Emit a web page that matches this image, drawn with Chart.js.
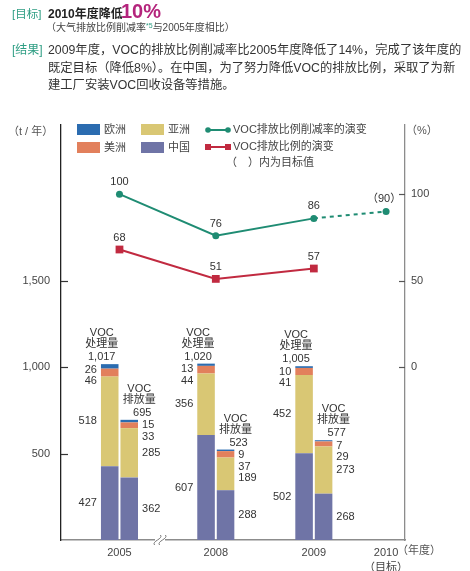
<!DOCTYPE html>
<html>
<head>
<meta charset="utf-8">
<script src="https://cdn.jsdelivr.net/npm/chart.js@4.4.1/dist/chart.umd.min.js"></script>
<style>
  body { margin: 0; background: #fff; font-family: 'Liberation Sans', 'Noto Sans CJK SC', sans-serif; color: #333; }
  #wrap { position: relative; width: 470px; height: 571px; overflow: hidden; }
  #myChart { position: absolute; left: 0; top: 0; }
  .t { position: absolute; white-space: nowrap; line-height: 1; }
  .tag { color: #2f9e84; }
</style>
</head>
<body>
<div id="wrap">
  <canvas id="myChart" width="470" height="571"></canvas>
  <span class="t tag" style="left:12px;top:9px;font-size:11.5px">[目标]</span>
  <span class="t" style="left:48px;top:8px;font-size:12px;font-weight:bold;color:#222">2010年度降低</span>
  <span class="t" style="left:121px;top:1px;font-size:20px;font-weight:bold;color:#b4247c">10%</span>
  <span class="t" style="left:46px;top:22px;font-size:10px;color:#444">（大气排放比例削减率<span class="tag" style="font-size:7px;vertical-align:3px">*5</span>与2005年度相比）</span>
  <span class="t tag" style="left:12px;top:44px;font-size:12px">[结果]</span>
  <div class="t" style="left:48px;top:42px;font-size:12.3px;line-height:17.5px;color:#333">2009年度，VOC的排放比例削减率比2005年度降低了14%，完成了该年度的<br>既定目标（降低8%）。在中国，为了努力降低VOC的排放比例，采取了为新<br>建工厂安装VOC回收设备等措施。</div>
</div>
<script>
const years = ['2005', '2008', '2009', '2010'];
const processedChina = [427, 607, 502];
const processedAsia = [518, 356, 452];
const processedAmerica = [46, 44, 41];
const processedEurope = [26, 13, 10];
const processedTotal = [1017, 1020, 1005];
const emissionChina = [362, 288, 268];
const emissionAsia = [285, 189, 273];
const emissionAmerica = [33, 37, 29];
const emissionEurope = [15, 9, 7];
const emissionTotal = [695, 523, 577];
const reductionRate = [100, 76, 86, 90]; // last one is the 2010 target
const emissionRatio = [68, 51, 57];
const targetIndex = 3;
const leftTicks = [500, 1000, 1500];
const rightTicks = [0, 50, 100];

// layout only: where each year sits on the x axis (axis is broken after 2005)
const xSlot = [1.7, 4.5, 7.35, 9.45];
const FONT = "'Liberation Sans', 'Noto Sans CJK SC', sans-serif";
const colors = {
    europe: '#2b6cb0', america: '#e2805c', asia: '#d9c774', china: '#6f74a6',
    green: '#1f8c73', red: '#c12a40'
};

Chart.defaults.font.family = FONT;
Chart.defaults.color = '#444';

const pts = (arr) => arr.map((v, i) => ({ x: xSlot[i], y: v }));
const fmt = (v) => v.toLocaleString('en-US');

function barSet(label, values, color, stack) {
    return {
        type: 'bar', label, data: pts(values), backgroundColor: color, stack,
        yAxisID: 'y', categoryPercentage: 0.54, barPercentage: 0.9, borderWidth: 0
    };
}

const datasets = [
    barSet('中国', processedChina, colors.china, 'proc'),
    barSet('亚洲', processedAsia, colors.asia, 'proc'),
    barSet('美洲', processedAmerica, colors.america, 'proc'),
    barSet('欧洲', processedEurope, colors.europe, 'proc'),
    barSet('中国', emissionChina, colors.china, 'emit'),
    barSet('亚洲', emissionAsia, colors.asia, 'emit'),
    barSet('美洲', emissionAmerica, colors.america, 'emit'),
    barSet('欧洲', emissionEurope, colors.europe, 'emit'),
    {
        type: 'line', label: 'VOC排放比例削减率的演变', data: pts(reductionRate), yAxisID: 'y2',
        borderColor: colors.green, backgroundColor: colors.green, borderWidth: 2,
        pointRadius: 3.5, pointBorderWidth: 0, pointStyle: 'circle',
        segment: { borderDash: c => c.p1DataIndex === targetIndex ? [4, 4] : undefined }
    },
    {
        type: 'line', label: 'VOC排放比例的演变', data: pts(emissionRatio), yAxisID: 'y2',
        borderColor: colors.red, backgroundColor: colors.red, borderWidth: 2,
        pointRadius: 5.5, pointBorderWidth: 0, pointStyle: 'rect'
    }
];

const barLabels = {
    id: 'barLabels',
    afterDatasetsDraw(chart) {
        const ctx = chart.ctx;
        ctx.save();
        ctx.font = '11px ' + FONT;
        ctx.fillStyle = '#333';
        ctx.textBaseline = 'middle';
        ['proc', 'emit'].forEach(stack => {
            const sets = [];
            chart.data.datasets.forEach((d, di) => {
                if (d.stack === stack) sets.push({ d, m: chart.getDatasetMeta(di) });
            });
            const totals = stack === 'proc' ? processedTotal : emissionTotal;
            const isLeft = stack === 'proc';
            for (let i = 0; i < totals.length; i++) {
                const els = sets.map(o => o.m.data[i]);
                const bar = els[0];
                const top = els[els.length - 1].y;
                const lx = isLeft ? bar.x - bar.width / 2 - 4 : bar.x + bar.width / 2 + 4;
                ctx.textAlign = isLeft ? 'right' : 'left';
                let prev = top - 6;
                for (let k = els.length - 1; k >= 0; k--) {
                    const e = els[k];
                    const y = Math.max((e.y + e.base) / 2, prev + 11.5);
                    ctx.fillText(sets[k].d.data[i].y, lx, y);
                    prev = y;
                }
                const cx = isLeft ? bar.x - 8 : bar.x + 10;
                ctx.textAlign = 'center';
                ctx.fillText('VOC', cx, top - 31);
                ctx.fillText(isLeft ? '处理量' : '排放量', cx, top - 20);
                ctx.fillText(fmt(totals[i]), isLeft ? cx : cx + 3, top - 7);
            }
        });
        // line point labels
        [8, 9].forEach(di => {
            const meta = chart.getDatasetMeta(di);
            meta.data.forEach((p, i) => {
                const v = chart.data.datasets[di].data[i].y;
                const txt = (di === 8 && i === targetIndex) ? '（' + v + '）' : String(v);
                ctx.fillText(txt, p.x - (di === 8 && i === targetIndex ? 2 : 0), p.y - 12);
            });
        });
        ctx.restore();
    }
};

const decorations = {
    id: 'decorations',
    afterDraw(chart) {
        const ctx = chart.ctx;
        const { left, right, bottom } = chart.chartArea;
        const y = chart.scales.y, y2 = chart.scales.y2;
        ctx.save();
        // inward tick marks
        ctx.lineWidth = 1.2;
        ctx.strokeStyle = '#333';
        leftTicks.forEach(v => {
            const py = Math.round(y.getPixelForValue(v)) + 0.5;
            ctx.beginPath(); ctx.moveTo(left, py); ctx.lineTo(left + 7, py); ctx.stroke();
        });
        ctx.strokeStyle = '#555';
        rightTicks.forEach(v => {
            const py = Math.round(y2.getPixelForValue(v)) + 0.5;
            ctx.beginPath(); ctx.moveTo(right - 6, py); ctx.lineTo(right, py); ctx.stroke();
        });
        // axis break mark on the baseline
        const bx = 160, by = bottom;
        ctx.fillStyle = '#fff';
        ctx.fillRect(bx - 5, by - 2, 10, 4);
        ctx.strokeStyle = '#777';
        ctx.lineWidth = 1;
        [-2.5, 2.5].forEach(dx => {
            ctx.beginPath();
            ctx.moveTo(bx + dx - 3, by + 5);
            ctx.bezierCurveTo(bx + dx - 6, by + 1, bx + dx + 6, by - 1, bx + dx + 3, by - 5);
            ctx.stroke();
        });
        // axis titles
        ctx.fillStyle = '#555';
        ctx.font = '11px ' + FONT;
        ctx.textBaseline = 'middle';
        ctx.textAlign = 'left';
        ctx.fillText('（t / 年）', 8, 132);
        ctx.fillText('（%）', 406, 131);
        ctx.fillText('（年度）', 397, 551);
        // legend
        const boxes = [[3, 77, 124], [2, 77, 142], [1, 141, 124], [0, 141, 142]];
        boxes.forEach(([di, bxl, byt]) => {
            const d = chart.data.datasets[di];
            ctx.fillStyle = d.backgroundColor;
            ctx.fillRect(bxl, byt, 23, 11);
            ctx.fillStyle = '#444';
            ctx.fillText(d.label, bxl + 27, byt + 6);
        });
        [[8, 130], [9, 147]].forEach(([di, ly]) => {
            const d = chart.data.datasets[di];
            ctx.strokeStyle = d.borderColor;
            ctx.fillStyle = d.borderColor;
            ctx.lineWidth = 2;
            ctx.beginPath(); ctx.moveTo(208, ly); ctx.lineTo(228, ly); ctx.stroke();
            [208, 228].forEach(px => {
                ctx.beginPath();
                if (di === 8) { ctx.arc(px, ly, 2.8, 0, Math.PI * 2); ctx.fill(); }
                else ctx.fillRect(px - 3, ly - 3, 6, 6);
            });
            ctx.fillStyle = '#444';
            ctx.fillText(d.label, 233, ly);
        });
        ctx.fillText('（　）内为目标值', 226, 163);
        ctx.restore();
    }
};

new Chart(document.getElementById('myChart'), {
    type: 'bar',
    data: { datasets },
    plugins: [barLabels, decorations],
    options: {
        responsive: false,
        animation: false,
        layout: { padding: { top: 125, left: 0, right: 0, bottom: 0 } },
        plugins: { legend: { display: false }, tooltip: { enabled: false } },
        scales: {
            x: {
                type: 'linear', min: 0, max: 10, offset: false,
                grid: { display: false, drawTicks: false },
                border: { color: '#8c8c8c', width: 1.5 },
                ticks: {
                    padding: 5, maxRotation: 0, autoSkip: false, color: '#444',
                    font: { size: 11, lineHeight: 1.4 },
                    callback: (v, i) => i === targetIndex ? [years[i], '（目标）'] : years[i]
                },
                afterBuildTicks: s => { s.ticks = xSlot.map(v => ({ value: v })); },
                afterFit: s => { s.height = 31; }
            },
            y: {
                type: 'linear', position: 'left', stacked: true, min: 0, max: 2400,
                grid: { display: false, drawTicks: false },
                border: { color: '#222', width: 1.3 },
                ticks: { padding: 11, color: '#444', font: { size: 11 }, callback: v => fmt(v) },
                afterBuildTicks: s => { s.ticks = leftTicks.map(v => ({ value: v })); },
                afterFit: s => { s.width = 61; }
            },
            y2: {
                type: 'linear', position: 'right', min: -100, max: 140,
                grid: { display: false, drawTicks: false },
                border: { color: '#8c8c8c', width: 1.3 },
                ticks: { padding: 6, color: '#444', font: { size: 11 } },
                afterBuildTicks: s => { s.ticks = rightTicks.map(v => ({ value: v })); },
                afterFit: s => { s.width = 65; }
            }
        }
    }
});
</script>
</body>
</html>
